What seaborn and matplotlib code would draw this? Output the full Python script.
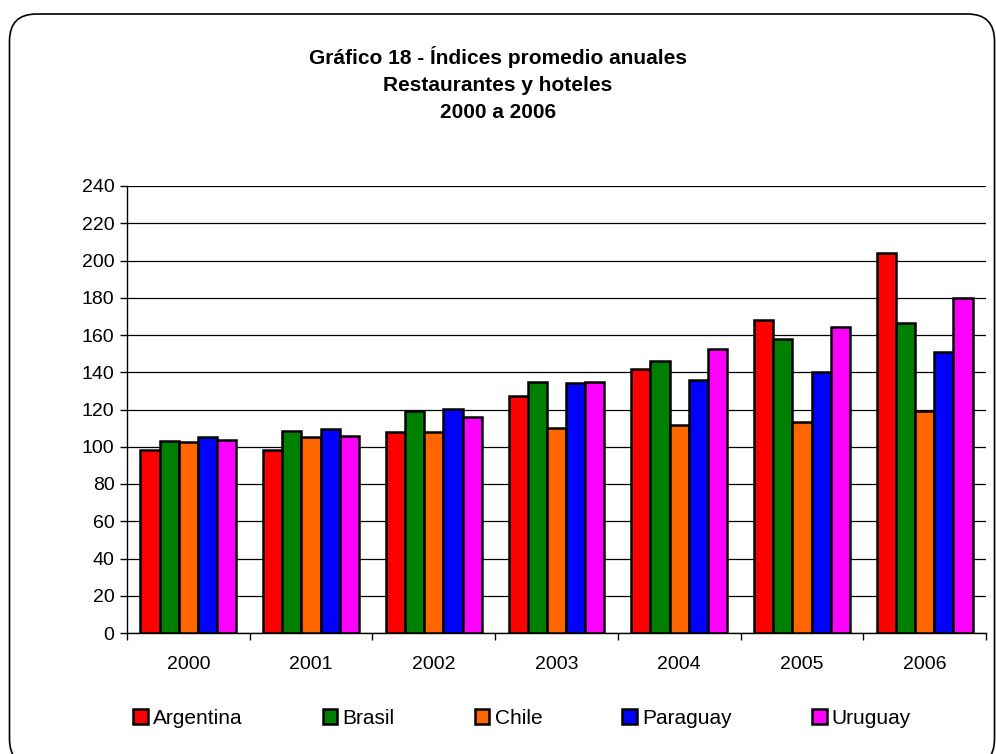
import pandas as pd
import seaborn as sns
import matplotlib
matplotlib.use('Agg')
import matplotlib.pyplot as plt
from matplotlib.patches import FancyBboxPatch, Patch
from matplotlib.transforms import IdentityTransform

years = ['2000', '2001', '2002', '2003', '2004', '2005', '2006']
countries = ['Argentina', 'Brasil', 'Chile', 'Paraguay', 'Uruguay']
argentina = [98, 98, 108, 127.5, 142, 168, 204]
brasil = [103, 108.5, 119, 134.5, 146, 158, 166.5]
chile = [102.5, 105.5, 108, 110, 111.5, 113.5, 119]
paraguay = [105, 109.5, 120.5, 134, 136, 140, 151]
uruguay = [103.5, 106, 116, 135, 152.5, 164.5, 180]
yticks = list(range(0, 241, 20))

colors = ['#FF0000', '#008000', '#FF6600', '#0000FF', '#FF00FF']

frame = pd.DataFrame({'year': years * 5,
                      'country': [c for c in countries for _ in years],
                      'value': argentina + brasil + chile + paraguay + uruguay})

sns.set_style('white')
plt.rcParams['font.family'] = ['Liberation Sans', 'DejaVu Sans']
plt.rcParams['text.color'] = 'black'
plt.rcParams['xtick.color'] = 'black'
plt.rcParams['ytick.color'] = 'black'

fig = plt.figure(figsize=(9.96, 7.54), dpi=100)
ax = fig.add_axes([127 / 996, 121 / 754, 859 / 996, 447 / 754])

# rounded outer frame, like the excel chart area (runs off the right and bottom)
fig.patches.append(FancyBboxPatch((9.5, -12), 985, 752, boxstyle='round,pad=0,rounding_size=27',
                                  transform=IdentityTransform(), facecolor='none',
                                  edgecolor='black', linewidth=1.2, zorder=-1))

sns.barplot(data=frame, x='year', y='value', hue='country', palette=colors,
            width=0.78, edgecolor='black', linewidth=1.8, ax=ax, legend=False,
            saturation=1, zorder=3)

ax.set_ylim(0, 240)
ax.set_yticks(yticks)
ax.set_xlim(-0.5, 6.5)
ax.grid(axis='y', color='black', linewidth=0.9, zorder=0)
ax.set_axisbelow(True)
for s in ['top', 'right']:
    ax.spines[s].set_visible(False)
for s in ['left', 'bottom']:
    ax.spines[s].set_color('black')
    ax.spines[s].set_linewidth(1)
ax.set_xlabel('')
ax.set_ylabel('')
ax.tick_params(axis='y', left=True, length=5, width=1, labelsize=14, pad=4)
ax.tick_params(axis='x', bottom=False, labelsize=14, pad=13)
# ticks between categories
ax.set_xticks([i - 0.5 for i in range(8)], minor=True)
ax.tick_params(axis='x', which='minor', bottom=True, length=5, width=1)

fig.text(0.5, 1 - 64 / 754, 'Gráfico 18 - Índices promedio anuales', ha='center', va='baseline',
         fontsize=15, fontweight='bold')
fig.text(0.5, 1 - 91 / 754, 'Restaurantes y hoteles', ha='center', va='baseline',
         fontsize=15, fontweight='bold')
fig.text(0.5, 1 - 118 / 754, '2000 a 2006', ha='center', va='baseline',
         fontsize=15, fontweight='bold')

handles = [Patch(facecolor=c, edgecolor='black', linewidth=1.8) for c in colors]
fig.legend(handles, countries, loc='center left', bbox_to_anchor=(133 / 996, 36 / 754),
           ncol=5, frameon=False, fontsize=15, handlelength=0.7, handleheight=0.7,
           handletextpad=0.25, columnspacing=3.85, borderpad=0, borderaxespad=0)

plt.savefig('out.png', dpi=100)
